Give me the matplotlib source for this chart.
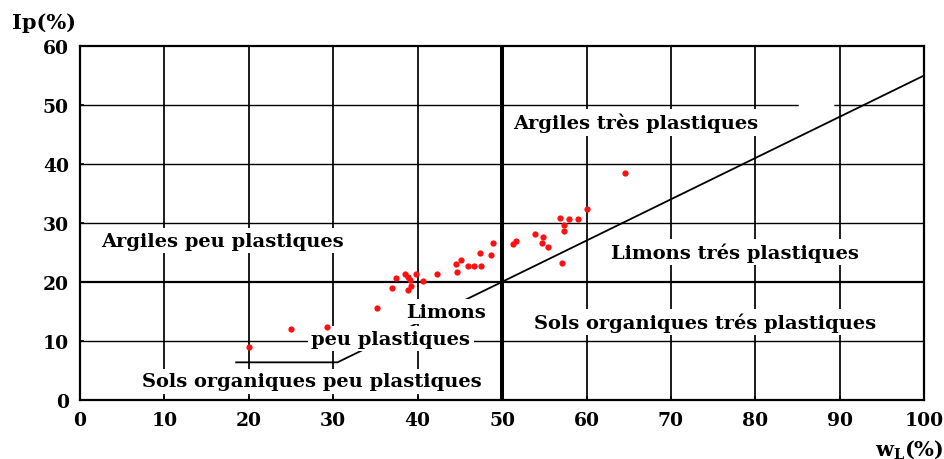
import matplotlib
matplotlib.use('Agg')
import matplotlib.pyplot as plt
import numpy as np

# liquid limit (wL) and plasticity index (Ip) of the samples
wl = [20.0, 25.0, 29.3, 35.2, 37.0, 37.4, 38.5, 38.9, 39.1, 39.8, 40.6, 38.8,
      39.2, 42.3, 44.6, 44.5, 45.1, 45.9, 46.7, 47.5, 47.4, 48.7, 48.9, 51.3,
      51.7, 53.9, 54.8, 54.7, 55.4, 56.9, 57.9, 59.0, 57.3, 57.3, 60.0, 57.1,
      64.6]
ip = [9.0, 12.1, 12.4, 15.6, 19.0, 20.7, 21.3, 20.8, 20.4, 21.4, 20.2, 18.7,
      19.4, 21.4, 21.7, 23.0, 23.8, 22.7, 22.7, 22.8, 25.0, 24.5, 26.6, 26.4,
      26.9, 28.1, 27.6, 26.7, 25.9, 30.9, 30.7, 30.7, 29.7, 28.6, 32.3, 23.3,
      38.4]

# A-line of the chart
aline_wl = [18.5, 30.5, 100]
aline_ip = [6.4, 6.4, 55]

x_ticks = [0, 10, 20, 30, 40, 50, 60, 70, 80, 90, 100]
y_ticks = [0, 10, 20, 30, 40, 50, 60]

zone_names = ['Argiles peu plastiques', 'Argiles très plastiques',
              'Limons trés plastiques', 'Sols organiques trés plastiques',
              'Limons', 'peu plastiques', 'Sols organiques peu plastiques']
zone_wl = [16.9, 65.8, 77.6, 74.0, 43.4, 36.8, 27.4]
zone_ip = [27.0, 47.0, 25.1, 13.2, 15.0, 10.4, 3.2]

serif = 'DejaVu Serif'
plt.rcParams['mathtext.fontset'] = 'dejavuserif'

fig = plt.figure(figsize=(9.45, 4.6), dpi=100)
ax = fig.add_axes([0.0847, 0.128, 0.8933, 0.770])

# grid
for x in x_ticks[1:-1]:
    ax.axvline(x, color='black', lw=2.9 if x == 50 else 1.25, zorder=1)
for y in y_ticks[1:-1]:
    ax.axhline(y, color='black', lw=1.6 if y == 20 else 1.0, zorder=1)
# small break in the 50 line
ax.plot([85.3, 89.1], [50, 50], color='white', lw=2.5, zorder=1.5)

ax.plot(aline_wl, aline_ip, color='black', lw=1.3, zorder=2)
ax.plot(wl, ip, 'o', color='#ff1010', ms=4.5, mec='none', zorder=4)

for name, x, y in zip(zone_names, zone_wl, zone_ip):
    ax.text(x, y, name, ha='center', va='center', family=serif,
            fontweight='bold', fontsize=14, zorder=3,
            bbox=dict(facecolor='white', edgecolor='none', pad=2.5))

ax.set_xlim(0, 100)
ax.set_ylim(0, 60)
ax.set_xticks(x_ticks)
ax.set_yticks(y_ticks)
ax.tick_params(direction='in', length=3, width=1.2, pad=8, labelsize=13.5)
for lab in ax.get_xticklabels() + ax.get_yticklabels():
    lab.set_family(serif)
    lab.set_fontweight('bold')
for s in ax.spines.values():
    s.set_linewidth(1.6)

fig.text(12 / 945, 1 - 23 / 460, 'Ip(%)', ha='left', va='center',
         family=serif, fontweight='bold', fontsize=15)
fig.text(944 / 945, 10 / 460, r'$\mathbf{w_{L}(\%)}$', ha='right',
         va='center', fontsize=15)

fig.savefig('out.png', dpi=100)
